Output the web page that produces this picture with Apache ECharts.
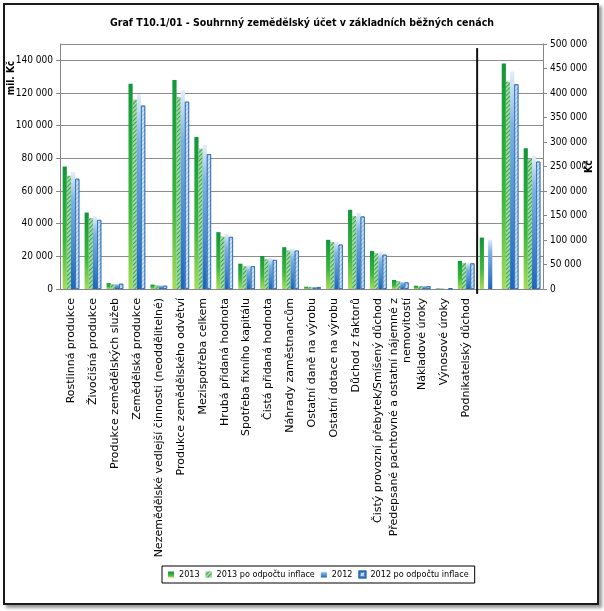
<!DOCTYPE html>
<html>
<head>
<meta charset="utf-8">
<title>Graf T10.1/01</title>
<script src="https://cdn.jsdelivr.net/npm/echarts@6/dist/echarts.min.js"></script>
<style>
  body { margin: 0; background: #fff; }
  .frame {
    position: absolute; left: 3px; top: 3px; width: 592px; height: 598px;
    border: 2px solid #1a1a1a; box-shadow: 3px 3px 3px #999;
  }
  #main { position: absolute; left: 0; top: 0; width: 604px; height: 611px; }
</style>
</head>
<body>
<div class="frame"></div>
<div id="main"></div>
<script>
// popisky kategorii, posledni tri skupiny patri k prave ose (Kč) a nemaji popisek
const categories = [
  "Rostlinná produkce",
  "Živočišná produkce",
  "Produkce zemědělských služeb",
  "Zemědělská produkce",
  "Nezemědělské vedlejší činnosti (neoddělitelné)",
  "Produkce zemědělského odvětví",
  "Mezispotřeba celkem",
  "Hrubá přidaná hodnota",
  "Spotřeba fixního kapitálu",
  "Čistá přidaná hodnota",
  "Náhrady zaměstnancům",
  "Ostatní daně na výrobu",
  "Ostatní dotace na výrobu",
  "Důchod z faktorů",
  "Čistý provozní přebytek/Smíšený důchod",
  "Předepsané pachtovné a ostatní nájemné z\nnemovitostí",
  "Nákladové úroky",
  "Výnosové úroky",
  "Podnikatelský důchod",
  "", "", ""
];
const seriesNames = ["2013", "2013 po odpočtu inflace", "2012", "2012 po odpočtu inflace"];

// leva osa, mil. Kč
const left2013 = [75000, 46800, 3600, 125600, 2700, 128000, 93000, 34800, 15500, 20200, 25600, 1400, 30100, 48500, 23300, 5500, 2000, 300, 17200];
const left2013i = [69300, 43300, 2800, 115800, 2200, 117400, 85900, 32100, 13900, 18200, 23500, 1300, 28700, 44600, 21900, 4900, 1800, 280, 15800];
const left2012 = [71600, 44500, 3100, 119400, 2300, 121900, 88100, 33700, 14500, 19000, 24700, 1300, 29000, 46600, 22500, 4500, 1900, 300, 16000];
const left2012i = [67500, 42300, 3200, 112300, 2000, 114700, 82600, 31900, 14000, 17800, 23500, 1200, 27200, 44400, 21000, 4100, 1700, 280, 15700];

// prava osa, Kč
const right2013 = [105000, 460000, 287000];
const right2013i = [null, 423000, 266000];
const right2012 = [101000, 444000, 272000];
const right2012i = [null, 418000, 260000];

const leftTicks = { min: 0, max: 150000, step: 20000 };
const rightTicks = { min: 0, max: 500000, step: 50000 };
const dividerAt = 19; // cara mezi levou a pravou casti

const narrow = '"DejaVu Sans Condensed", "Liberation Sans", sans-serif';
const axisGray = "#868686";

function fmt(v) {
  return String(v).replace(/\B(?=(\d{3})+(?!\d))/g, " ");
}

const padLeft = (arr) => arr.concat(new Array(categories.length - arr.length).fill(null));
const padRight = (arr) => new Array(dividerAt).fill(null).concat(arr);

const hatch = {
  symbol: "rect",
  symbolSize: 1,
  color: "rgba(255,255,255,0.55)",
  dashArrayX: [1, 0],
  dashArrayY: [2, 1],
  rotation: -Math.PI / 4
};

const styles = [
  {
    color: new echarts.graphic.LinearGradient(0, 0, 0, 1, [
      { offset: 0, color: "#11963a" },
      { offset: 0.6, color: "#3db63c" },
      { offset: 1, color: "#a6dc57" }
    ])
  },
  { color: "#35a843", decal: hatch },
  {
    color: new echarts.graphic.LinearGradient(0, 0, 0, 1, [
      { offset: 0, color: "#e6eef9" },
      { offset: 0.25, color: "#7eb1e4" },
      { offset: 1, color: "#1f65bd" }
    ])
  },
  { color: "#8fc1ea", borderColor: "#2e6db5", borderWidth: 0.8, decal: hatch }
];

const leftData = [left2013, left2013i, left2012, left2012i];
const rightData = [right2013, right2013i, right2012, right2012i];

let series = [];
seriesNames.forEach((name, i) => {
  series.push({
    name: name, type: "bar", xAxisIndex: 0, yAxisIndex: 0,
    barGap: "0%", barCategoryGap: "24%",
    itemStyle: styles[i], data: padLeft(leftData[i])
  });
});
seriesNames.forEach((name, i) => {
  series.push({
    name: name, type: "bar", xAxisIndex: 1, yAxisIndex: 1,
    barGap: "0%", barCategoryGap: "24%",
    itemStyle: styles[i], data: padRight(rightData[i])
  });
});
// svisla cara oddelujici pravou cast grafu
series.push({
  type: "line", xAxisIndex: 2, yAxisIndex: 0, silent: true, clip: false,
  symbol: "none", lineStyle: { color: "#111", width: 2 },
  data: [[dividerAt, -3000], [dividerAt, 147500]]
});

const option = {
  animation: false,
  title: {
    text: "Graf T10.1/01 - Souhrnný zemědělský účet v základních běžných cenách",
    left: "center", top: 13,
    textStyle: { fontFamily: narrow, fontSize: 10.5, fontWeight: "bold", color: "#000" }
  },
  legend: {
    data: seriesNames,
    left: 162, top: 566,
    icon: "rect", itemWidth: 6, itemHeight: 6, itemGap: 6,
    borderColor: "#000", borderWidth: 1, padding: [4, 6],
    textStyle: { fontFamily: narrow, fontSize: 9, color: "#000" }
  },
  grid: { left: 60, right: 61, top: 44, bottom: 322, containLabel: false, outerBoundsMode: "none" },
  xAxis: [
    {
      type: "category", data: categories,
      axisLine: { lineStyle: { color: axisGray } },
      axisTick: { length: 4, lineStyle: { color: axisGray } },
      axisLabel: {
        interval: 0, rotate: 90, margin: 9, color: "#000",
        fontFamily: '"DejaVu Sans", sans-serif', fontSize: 11, lineHeight: 13
      }
    },
    { type: "category", data: categories, show: false },
    { type: "value", min: 0, max: categories.length, show: false }
  ],
  yAxis: [
    {
      type: "value", position: "left",
      min: leftTicks.min, max: leftTicks.max, interval: leftTicks.step,
      axisLine: { show: true, lineStyle: { color: axisGray } },
      axisTick: { show: true, length: 4, lineStyle: { color: axisGray } },
      axisLabel: { showMaxLabel: false, formatter: fmt, color: "#000", fontFamily: narrow, fontSize: 10, margin: 7 },
      splitLine: { lineStyle: { color: "#8c8c8c" } }
    },
    {
      type: "value", position: "right",
      min: rightTicks.min, max: rightTicks.max, interval: rightTicks.step,
      name: "Kč", nameLocation: "middle", nameGap: 41, nameMoveOverlap: false,
      nameTextStyle: { fontFamily: narrow, fontSize: 10.5, fontWeight: "bold", color: "#000" },
      axisLine: { show: true, lineStyle: { color: axisGray } },
      axisTick: { show: true, length: 4, lineStyle: { color: axisGray } },
      axisLabel: { formatter: fmt, color: "#000", fontFamily: narrow, fontSize: 10, margin: 7 },
      splitLine: { show: false }
    }
  ],
  graphic: [
    {
      type: "text", x: 11, y: 78, rotation: Math.PI / 2,
      style: {
        text: "mil. Kč", align: "center", verticalAlign: "middle",
        font: "bold 10px " + narrow, fill: "#000"
      }
    }
  ],
  series: series
};

let myChart = echarts.init(document.getElementById("main"));
myChart.setOption(option);
</script>
</body>
</html>
